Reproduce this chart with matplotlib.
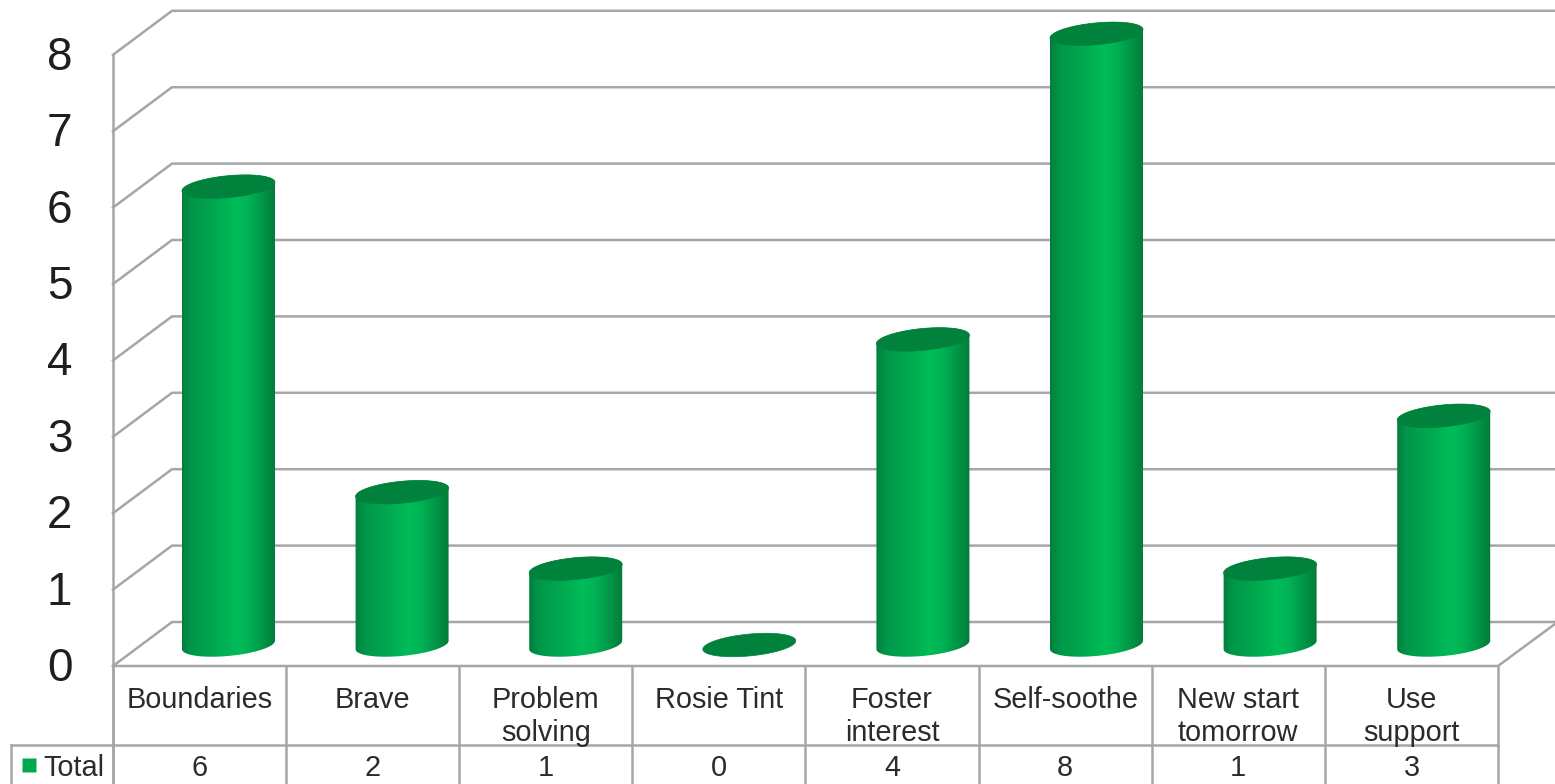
import numpy as np
import matplotlib
matplotlib.use('Agg')
import matplotlib.pyplot as plt
from matplotlib.colors import LinearSegmentedColormap
from matplotlib.patches import Polygon

plt.rcParams['font.family'] = ['Liberation Sans', 'DejaVu Sans']

categories = ['Boundaries', 'Brave', 'Problem\nsolving', 'Rosie Tint',
              'Foster\ninterest', 'Self-soothe', 'New start\ntomorrow', 'Use\nsupport']
values = [6, 2, 1, 0, 4, 8, 1, 3]
y_ticks = [0, 1, 2, 3, 4, 5, 6, 7, 8]
series_name = 'Total'

W, H = 1555, 784
PX_X = 173.6   # pixels per category
PX_Y = 76.4    # pixels per unit of value
X0, Y0 = 228.5, 645   # pixel position of category 0, value 0

GRID = '#a6a6a6'
TEXT = '#2b2b2b'
GREEN = '#00a84f'
TOP = '#00823c'
LW = 1.8

fig = plt.figure(figsize=(W / 100, H / 100), dpi=100, facecolor='white')
ax = fig.add_axes([0, 0, 1, 1])
xlim = (-X0 / PX_X, (W - X0) / PX_X)
ylim = ((Y0 - H) / PX_Y, Y0 / PX_Y)


def dx(px):
    return px / PX_X


def dy(px):
    return px / PX_Y


# box geometry, in data units
left = dx(113 - X0)
right = dx(1498 - X0)
col_w = (right - left) / len(categories)
front = dy(Y0 - 666)
depth_x = dx(59)
depth_y = dy(44)
legend_left = dx(11 - X0)
row1 = dy(Y0 - 745)
bottom = ylim[0]

# walls and floor
for t in y_ticks:
    yf = t + front
    ax.plot([left, left + depth_x, xlim[1]], [yf, yf + depth_y, yf + depth_y],
            color=GRID, lw=LW, solid_joinstyle='miter', zorder=1)
    ax.text(dx(59.5 - X0), yf + dy(2), str(t), fontsize=33, color='#1f1f1f',
            ha='center', va='center_baseline', zorder=5)
ax.plot([left, left], [8 + front, bottom], color=GRID, lw=LW, zorder=1)
ax.plot([left, right, right + depth_x * 0.97], [front, front, front + depth_y * 0.96],
        color=GRID, lw=LW, zorder=1)

# data table under the floor
ax.plot([legend_left, right], [row1, row1], color=GRID, lw=LW, zorder=1)
ax.plot([legend_left, legend_left], [row1, bottom], color=GRID, lw=LW, zorder=1)
for i in range(len(categories) + 1):
    xe = left + i * col_w
    ax.plot([xe, xe], [front, bottom], color=GRID, lw=LW, zorder=1)

for i, (cat, val) in enumerate(zip(categories, values)):
    xc = left + (i + 0.5) * col_w
    for k, line in enumerate(cat.split('\n')):
        ax.text(xc, dy(Y0 - 697 - 33 * k), line, fontsize=20.8, color=TEXT,
                ha='center', va='center_baseline', zorder=5)
    ax.text(xc, dy(Y0 - 765), str(val), fontsize=20.8, color=TEXT,
            ha='center', va='center_baseline', zorder=5)

ax.plot([dx(28.5 - X0)], [dy(Y0 - 765)], marker='s', ms=9.5, color=GREEN, mec='none', zorder=5)
ax.text(dx(74 - X0), dy(Y0 - 764.5), series_name, fontsize=20.8, color=TEXT,
        ha='center', va='center_baseline', zorder=5)

# cylinders: tilted ellipse caps and a horizontal shading across the body
A, B, TILT = 46.7, 10.9, np.radians(5.5)
shade = LinearSegmentedColormap.from_list('cyl', [
    (0.00, '#007f3b'), (0.10, '#00964a'), (0.35, '#00a94f'), (0.58, '#00bc59'),
    (0.72, '#00b153'), (0.90, '#008f43'), (1.00, '#007c39')])


def ellipse(xc, v, t):
    ex = A * np.cos(t) * np.cos(TILT) - B * np.sin(t) * np.sin(TILT)
    ey = A * np.cos(t) * np.sin(TILT) + B * np.sin(t) * np.cos(TILT)
    return xc + dx(ex), v + dy(ey)


t_right = np.arctan2(-B * np.sin(TILT), A * np.cos(TILT))
ts = np.linspace(0, 2 * np.pi, 120)
for i, val in enumerate(values):
    if val > 0:
        low = np.linspace(t_right - np.pi, t_right, 60)
        high = np.linspace(t_right, t_right + np.pi, 60)
        xb, yb = ellipse(i, 0, low)
        xt, yt = ellipse(i, val, high)
        outline = Polygon(np.column_stack([np.r_[xb, xt], np.r_[yb, yt]]),
                          closed=True, transform=ax.transData, fc='none', ec='none')
        ax.add_patch(outline)
        body = ax.imshow(np.linspace(0, 1, 128)[None, :], cmap=shade, aspect='auto',
                         extent=(i - dx(A), i + dx(A), -dy(20), val + dy(20)),
                         zorder=3, interpolation='bilinear')
        body.set_clip_path(outline)
    xe, ye = ellipse(i, val, ts)
    ax.fill(xe, ye, color=TOP, lw=0.5, zorder=4)

ax.set_xlim(*xlim)
ax.set_ylim(*ylim)
ax.axis('off')

fig.savefig('out.png', dpi=100, facecolor='white')
